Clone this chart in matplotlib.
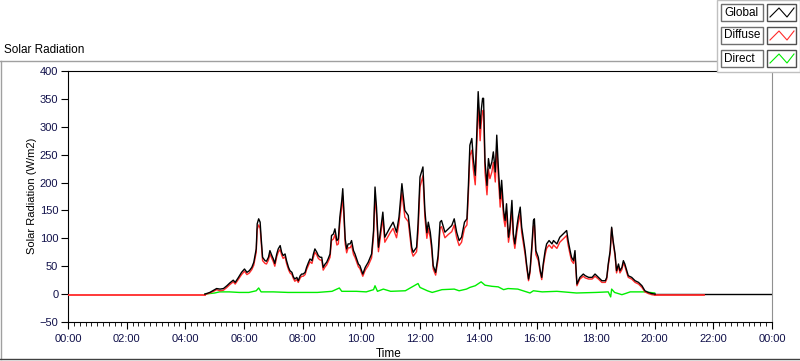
import matplotlib.pyplot as plt
from matplotlib.patches import Rectangle
from matplotlib.lines import Line2D
import numpy as np

plt.rcParams['font.family'] = ['Liberation Sans', 'DejaVu Sans']

# time of day in minutes after midnight
global_t = [280, 290, 300, 304, 311, 318, 325, 331, 338, 342, 348, 355, 361, 366, 371, 376, 380, 385, 387, 390,
            393, 395, 398, 403, 406, 410, 413, 417, 420, 423, 427, 430, 434, 437, 440, 444, 447, 451, 454, 458,
            461, 464, 468, 471, 475, 478, 481, 485, 488, 492, 495, 499, 502, 505, 509, 512, 516, 519, 522, 526,
            529, 532, 536, 539, 543, 546, 550, 553, 556, 560, 562, 564, 567, 570, 573, 577, 580, 584, 587, 594,
            597, 603, 608, 614, 621, 625, 628, 631, 635, 644, 648, 659, 665, 672, 677, 683, 689, 696, 703, 706,
            713, 716, 720, 726, 730, 734, 737, 741, 744, 747, 752, 757, 761, 764, 771, 778, 785, 790, 795, 800,
            805, 811, 816, 819, 822, 826, 829, 833, 836, 839, 843, 845, 848, 850, 853, 857, 860, 863, 867, 870,
            874, 877, 880, 884, 887, 891, 894, 897, 901, 904, 908, 911, 914, 918, 921, 925, 928, 931, 935, 938,
            942, 945, 949, 952, 954, 957, 962, 966, 969, 972, 976, 979, 984, 990, 993, 1000, 1006, 1013, 1020, 1023,
            1027, 1030, 1034, 1037, 1041, 1047, 1054, 1058, 1065, 1072, 1078, 1085, 1092, 1099, 1102, 1105, 1109, 1112, 1115, 1119,
            1122, 1126, 1129, 1133, 1136, 1139, 1143, 1146, 1153, 1160, 1167, 1174, 1180, 1187, 1194, 1201]

global_v = [0, 3, 8, 10, 9, 10, 15, 20, 25, 21, 29, 39, 45, 39, 42, 48, 57, 81, 126, 135,
            129, 102, 66, 60, 59, 66, 78, 69, 63, 55, 72, 81, 87, 75, 69, 72, 60, 48, 42, 39,
            31, 27, 30, 24, 33, 36, 36, 39, 48, 57, 63, 60, 72, 81, 75, 69, 66, 66, 48, 54,
            57, 63, 72, 105, 108, 117, 96, 99, 138, 168, 189, 156, 99, 81, 90, 90, 96, 78, 72, 54,
            51, 36, 48, 57, 72, 114, 192, 156, 84, 147, 102, 120, 129, 111, 138, 198, 150, 141, 84, 75,
            84, 126, 210, 228, 150, 110, 129, 111, 87, 51, 39, 69, 129, 132, 111, 117, 123, 135, 111, 96,
            102, 129, 135, 195, 267, 279, 243, 213, 285, 363, 297, 327, 351, 351, 237, 195, 243, 225, 237, 255,
            219, 285, 231, 171, 204, 150, 132, 162, 102, 120, 168, 108, 90, 120, 138, 156, 120, 102, 78, 54,
            27, 42, 90, 132, 135, 78, 66, 42, 30, 54, 78, 90, 96, 90, 96, 90, 102, 108, 114, 96,
            78, 66, 60, 78, 18, 30, 36, 33, 30, 30, 36, 30, 24, 24, 30, 54, 78, 120, 96, 72,
            42, 54, 42, 48, 60, 54, 42, 33, 30, 24, 21, 15, 6, 3, 1, 0]

diffuse_v = [-1, 2, 6, 8, 6, 7, 12, 17, 22, 18, 26, 35, 41, 35, 38, 44, 52, 75, 116, 124,
             118, 94, 60, 55, 54, 61, 72, 64, 58, 50, 67, 75, 80, 70, 64, 67, 55, 44, 38, 35,
             28, 23, 26, 21, 29, 32, 32, 35, 44, 52, 58, 55, 66, 75, 70, 64, 61, 61, 43, 49,
             52, 58, 66, 96, 99, 107, 88, 90, 127, 156, 176, 144, 90, 74, 83, 83, 88, 71, 66, 49,
             46, 32, 43, 51, 65, 104, 176, 143, 76, 136, 93, 110, 118, 101, 127, 182, 138, 130, 76, 68,
             76, 110, 192, 212, 138, 100, 118, 101, 79, 45, 34, 62, 118, 121, 101, 107, 112, 124, 101, 87,
             93, 118, 124, 180, 248, 258, 224, 196, 264, 340, 275, 304, 328, 330, 218, 178, 224, 207, 219, 236,
             201, 265, 213, 156, 188, 137, 121, 149, 93, 110, 155, 99, 82, 110, 127, 144, 110, 93, 71, 49,
             24, 38, 82, 121, 124, 71, 60, 38, 26, 49, 71, 82, 88, 82, 88, 82, 93, 99, 105, 88,
             71, 60, 55, 71, 15, 27, 32, 29, 27, 27, 32, 27, 21, 21, 27, 50, 74, 118, 92, 68,
             38, 50, 38, 44, 56, 50, 38, 30, 27, 21, 18, 12, 4, 1, -1, -2]

direct_t = [280, 290, 300, 310, 330, 350, 370, 385, 390, 395, 420, 450, 480, 510, 540, 545, 555, 560, 590, 610,
            625, 628, 633, 645, 660, 690, 716, 720, 735, 745, 765, 790, 800, 815, 822, 833, 845, 853, 867, 880,
            891, 900, 920, 945, 952, 970, 1000, 1040, 1080, 1105, 1110, 1112, 1118, 1133, 1140, 1150, 1180, 1200]
direct_v = [0, 1, 2, 4, 4, 3, 3, 6, 11, 4, 4, 3, 3, 3, 5, 7, 11, 5, 5, 4,
            8, 15, 5, 9, 5, 6, 19, 12, 6, 3, 8, 9, 6, 9, 12, 15, 22, 16, 14, 13,
            8, 10, 9, 2, 6, 4, 5, 2, 3, 4, -5, 9, 3, -1, 1, 4, 4, 2]

# night-time samples
night_t_black = [1201, 1440]
night_v_black = [0, 0]
night_t_red_am = [0, 280]
night_t_red_pm = [1201, 1300]
night_v_red = [-2, -2]

W, H = 800, 361
def fx(px):
    return px / W
def fy(py):
    return 1 - py / H

fig = plt.figure(figsize=(8, 3.61), dpi=100)
ax = fig.add_axes([fx(68), fy(322), fx(772) - fx(68), fy(71) - fy(322)])

ax.plot(direct_t, direct_v, color='#00ee00', lw=1, zorder=2)
ax.plot(night_t_red_am, night_v_red, color='#ff2a2a', lw=1.3, zorder=3)
ax.plot(night_t_red_pm, night_v_red, color='#ff2a2a', lw=1.3, zorder=3)
ax.plot(global_t, diffuse_v, color='#ff2a2a', lw=1, zorder=3)
ax.plot(global_t, global_v, color='black', lw=1, zorder=4)
ax.plot(night_t_black, night_v_black, color='black', lw=1, zorder=2)

ax.set_xlim(0, 1440)
ax.set_ylim(-50, 400)
ax.set_yticks(np.arange(-50, 401, 50))
xt = np.arange(0, 1441, 120)
ax.set_xticks(xt)
ax.set_xticklabels(['%02d:00' % ((m // 60) % 24) for m in xt])
ax.set_xticks(np.arange(0, 1441, 12), minor=True)
ax.tick_params(axis='both', direction='out', labelsize=8, colors='black', labelcolor='#10104a')
ax.tick_params(axis='x', which='major', length=5, pad=4)
ax.tick_params(axis='x', which='minor', length=3)
ax.tick_params(axis='y', length=5, pad=2)
for s in ['left', 'bottom', 'top']:
    ax.spines[s].set_color('black')
ax.spines['right'].set_color('#909090')

fig.text(fx(32), fy(196), 'Solar Radiation (W/m2)', rotation=90, ha='center', va='center', fontsize=8)
fig.text(fx(389), fy(354), 'Time', ha='center', va='center', fontsize=8.5)
fig.text(fx(4), fy(50), 'Solar Radiation', ha='left', va='center', fontsize=8.5)

# outer frame
fig.add_artist(Line2D([fx(0.5), fx(0.5)], [fy(61), fy(359)], color='#a0a0a0', lw=1))
fig.add_artist(Line2D([fx(0), fx(717)], [fy(61), fy(61)], color='#a0a0a0', lw=1))
fig.add_artist(Line2D([fx(0), fx(800)], [fy(359), fy(359)], color='#404040', lw=1))

# legend panel
fig.add_artist(Rectangle((fx(717), fy(72)), fx(800) - fx(717), fy(0) - fy(72), facecolor='white',
                         edgecolor='#c0c0c0', lw=1, zorder=10))
names = ['Global', 'Diffuse', 'Direct']
cols = ['black', '#ff2a2a', '#00ee00']
for i, (nm, c) in enumerate(zip(names, cols)):
    top = 4 + i * 23
    fig.add_artist(Rectangle((fx(721), fy(top + 17)), fx(763) - fx(721), fy(top) - fy(top + 17),
                             facecolor='white', edgecolor='#707070', lw=1, zorder=11))
    fig.text(fx(724), fy(top + 8.5), nm, ha='left', va='center', fontsize=8.5, zorder=12)
    fig.add_artist(Rectangle((fx(767), fy(top + 17)), fx(796) - fx(767), fy(top) - fy(top + 17),
                             facecolor='white', edgecolor='#505050', lw=1, zorder=11))
    fig.add_artist(Line2D([fx(770), fx(779), fx(787), fx(794)],
                          [fy(top + 13), fy(top + 4), fy(top + 13), fy(top + 4)],
                          color=c, lw=0.8, zorder=12))

fig.savefig('out.png', dpi=100)
